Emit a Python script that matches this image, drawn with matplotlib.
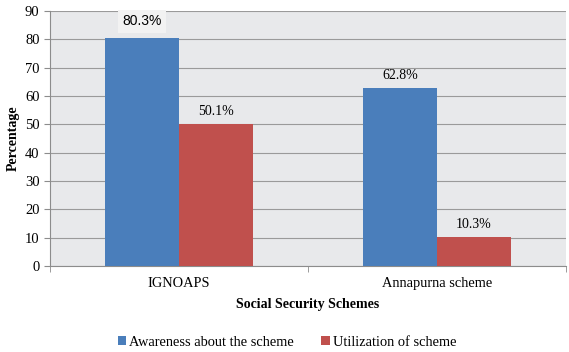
import numpy as np
import matplotlib.pyplot as plt

# data
schemes = ["IGNOAPS", "Annapurna scheme"]
awareness = [80.3, 62.8]
utilization = [50.1, 10.3]
series_names = ["Awareness about the scheme", "Utilization of scheme"]
yticks = list(range(0, 100, 10))

blue = "#4A7EBB"
red = "#C0504D"

plt.rcParams['font.family'] = ['Liberation Serif', 'DejaVu Serif']

fig = plt.figure(figsize=(5.69, 3.52), dpi=100)
ax = fig.add_axes([50 / 569, 1 - 266 / 352, 516 / 569, 255 / 352])
ax.set_facecolor("#E8E9EB")

x = np.arange(len(schemes))
w = 0.286
b1 = ax.bar(x - w / 2, awareness, w, color=blue, label=series_names[0], zorder=3)
b2 = ax.bar(x + w / 2, utilization, w, color=red, label=series_names[1], zorder=3)

for i, v in enumerate(awareness):
    if i == 0:
        # this one sits in a little highlighted box
        ax.text(x[i] - w / 2, v + 6.0, f"{v}%", ha="center", va="center", fontsize=10,
                family=["Liberation Sans"],
                bbox=dict(boxstyle="square,pad=0.3", fc="#F2F2F2", ec="none"))
    else:
        ax.text(x[i] - w / 2, v + 2, f"{v}%", ha="center", va="bottom", fontsize=10)
for i, v in enumerate(utilization):
    ax.text(x[i] + w / 2, v + 2, f"{v}%", ha="center", va="bottom", fontsize=10)

ax.set_xlim(-0.5, 1.5)
ax.set_ylim(0, 90)
ax.set_yticks(yticks)
ax.yaxis.grid(True, color="#9A9A9A", linewidth=0.8, zorder=0)
ax.set_xticks(x)
ax.set_xticklabels(schemes, fontsize=10.4)
ax.tick_params(axis="x", length=0, pad=8)
ax.set_xticks([-0.5, 0.5, 1.5], minor=True)
ax.tick_params(axis="x", which="minor", length=4, color="#8C8C8C")
ax.tick_params(axis="y", length=4, color="#8C8C8C", labelsize=10.5)

for s in ["top", "right"]:
    ax.spines[s].set_visible(False)
ax.spines["left"].set_color("#8C8C8C")
ax.spines["bottom"].set_color("#8C8C8C")

ax.set_xlabel("Social Security Schemes", fontsize=10, fontweight="bold", labelpad=6)
ax.set_ylabel("Percentage", fontsize=10, fontweight="bold", labelpad=4)

leg = fig.legend(handles=[b1, b2], loc="center", bbox_to_anchor=(287 / 569, 1 - 342 / 352),
                 ncol=2, frameon=False, fontsize=10.4, handlelength=0.6, handleheight=0.6,
                 columnspacing=1.9, handletextpad=0.2)

fig.savefig("out.png", dpi=100)
